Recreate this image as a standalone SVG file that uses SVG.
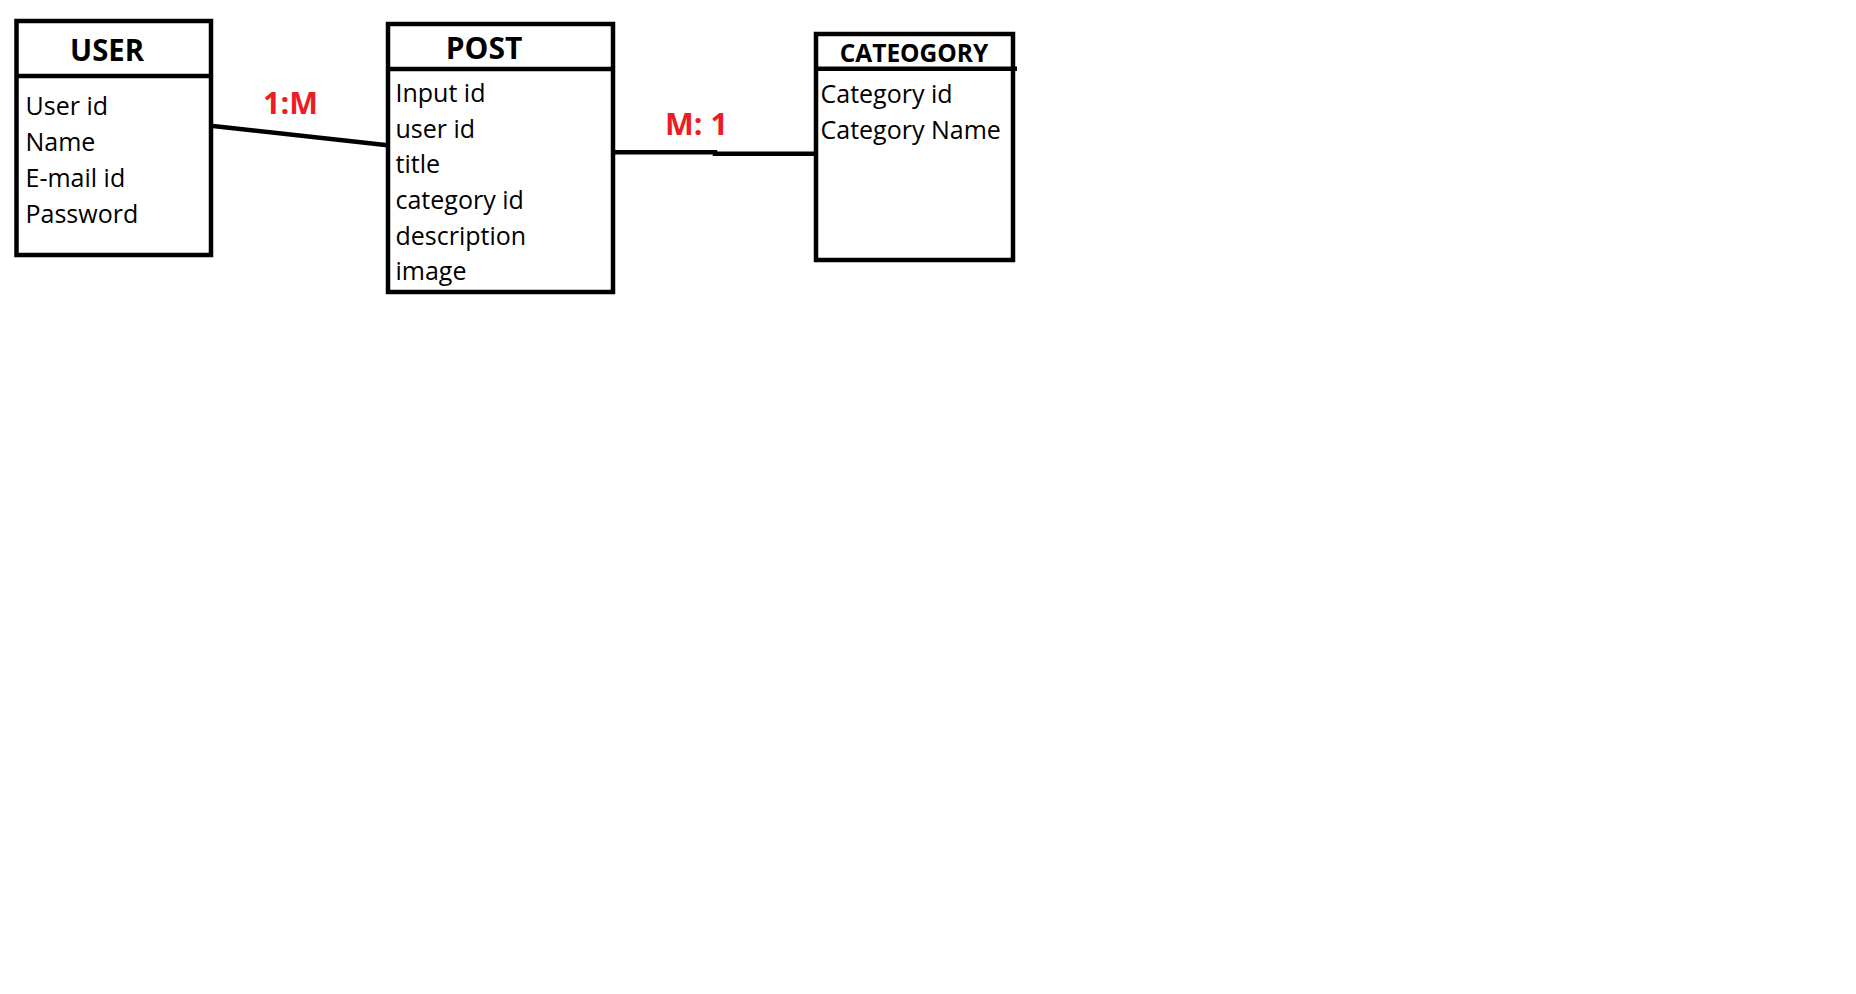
<svg xmlns="http://www.w3.org/2000/svg" width="1856" height="994" viewBox="0 0 1856 994">
<style>
.box{fill:#fff;stroke:#000;stroke-width:4.5}
.div{stroke:#000;stroke-width:4.5}
.hdr{font-family:"Open Sans","Liberation Sans",sans-serif;font-weight:bold;fill:#000;text-anchor:middle}
.att{font-family:"Open Sans","Liberation Sans",sans-serif;font-size:25px;fill:#000}
.lbl{font-family:"Open Sans","Liberation Sans",sans-serif;font-weight:bold;font-size:30.5px;fill:#ED1C24}
.conn{stroke:#000;stroke-width:4.5;fill:none}
</style>
<rect width="1856" height="994" fill="#fff"/>
<g id="connectors">
<line class="conn" x1="213" y1="126" x2="390" y2="145.5"/>
<polyline class="conn" points="615,152.3 715,152.3 715,153.7 818,153.7"/>
<text class="lbl" x="263" y="114">1:M</text>
<text class="lbl" x="665" y="135">M: 1</text>
</g>
<g id="user">
<rect class="box" x="16.5" y="21" width="194.5" height="234"/>
<line class="div" x1="16.5" y1="76" x2="211" y2="76"/>
<text class="hdr" x="107" y="60.5" font-size="31" textLength="74" lengthAdjust="spacingAndGlyphs">USER</text>
<text class="att" x="25.5" y="114.5">User id</text>
<text class="att" x="25.5" y="150.5">Name</text>
<text class="att" x="25.5" y="186.5">E-mail id</text>
<text class="att" x="25.5" y="223">Password</text>
</g>
<g id="post">
<rect class="box" x="388" y="24" width="225" height="268"/>
<line class="div" x1="388" y1="69" x2="613" y2="69"/>
<text class="hdr" x="484" y="58.5" font-size="30">POST</text>
<text class="att" x="395.5" y="101.5">Input id</text>
<text class="att" x="395.5" y="137.5">user id</text>
<text class="att" x="395.5" y="173">title</text>
<text class="att" x="395.5" y="208.5">category id</text>
<text class="att" x="395.5" y="244.5">description</text>
<text class="att" x="395.5" y="280">image</text>
</g>
<g id="category">
<rect class="box" x="816" y="34" width="197" height="226"/>
<line class="div" x1="816" y1="68.7" x2="1017" y2="68.7"/>
<text class="hdr" x="914" y="61.5" font-size="24.5">CATEOGORY</text>
<text class="att" x="820.5" y="102.5">Category id</text>
<text class="att" x="820.5" y="138.5">Category Name</text>
</g>
</svg>
